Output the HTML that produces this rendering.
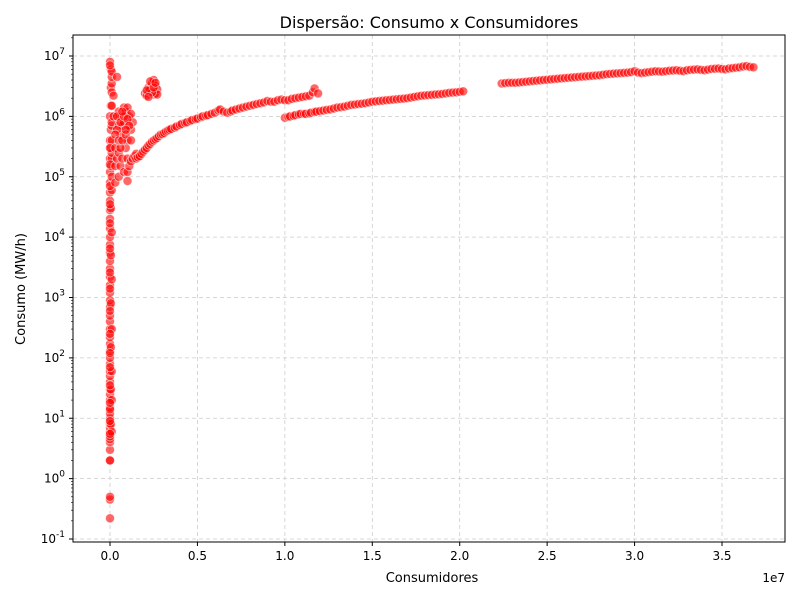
<!DOCTYPE html>
<html><head><meta charset="utf-8">
<style>
body{margin:0;background:#fff;}
svg text{font-family:"DejaVu Sans","Liberation Sans",sans-serif;}
</style></head>
<body>
<svg id="chart" width="800" height="600" xmlns="http://www.w3.org/2000/svg">
<text x="429" y="28" font-size="16" text-anchor="middle">Dispersão: Consumo x Consumidores</text>
<text x="432" y="582" font-size="13" text-anchor="middle">Consumidores</text>
<text x="25" y="289" font-size="13" text-anchor="middle" transform="rotate(-90 25 289)">Consumo (MW/h)</text>
<text x="785" y="582" font-size="12" text-anchor="end">1e7</text>
<g id="grid"></g>
<g id="pts"></g>
<rect x="73" y="35" width="712" height="507" fill="none" stroke="#000" stroke-width="1"/>
<g id="ticks"></g>
</svg>
<script>
// x in units of 1e7 consumers, y in MW/h
const xTicks=[0,0.5,1.0,1.5,2.0,2.5,3.0,3.5];
const xTickLabels=["0.0","0.5","1.0","1.5","2.0","2.5","3.0","3.5"];
const yTickExps=[-1,0,1,2,3,4,5,6,7];
// column near zero
const colX=[0,0,0,0,0,0,0,0,0,0,0,0,0,0,0,0,0,0,0,0,0,0,0,0,0,0,0,0,0,0,0,0,0,0,0,0,0,0,0,0,0,0,0,0,0,0,0,0,0,0,0.005,0.005,0.005,0.005,0.005,0.005,0.005,0.005,0.005,0.005,0.005,0.005,0.01,0.01,0.01,0.01,0.01,0.01,0.01,0.01,0.01,0.01,0.01,0.01,0.01,0.01,0.01,0.01,0.01,0.01,0,0,0,0,0,0,0,0,0,0,0,0,0,0,0,0,0,0];
const colY=[0.22,0.45,0.5,2,2,3,4,4.5,5,6,7,8,10,12,15,20,25,30,40,50,60,80,100,130,170,220,300,400,500,700,900,1200,1600,2200,3000,4000,5500,7500,1e4,1.4e4,2e4,2.8e4,4e4,5.5e4,8e4,1.2e5,2e5,4e5,1e6,8e6,3e5,6e5,1.5e6,3e6,6e6,8,30,150,800,5000,3e4,1.5e5,1e5,2e5,4e5,7e5,1.5e6,2.5e6,3.5e6,4.5e6,5.5e6,6,20,60,300,2000,1.2e4,6e4,2.5e5,8e5,5.5,9,14,18,35,70,120,250,600,1400,2600,6500,1.7e4,3.5e4,7e4,1.6e5,3e5,7e6];
// cluster small distributors
const c2X=[0.03,0.03,0.03,0.04,0.04,0.05,0.05,0.05,0.05,0.06,0.06,0.06,0.07,0.07,0.08,0.08,0.09,0.09,0.1,0.1,0.1,0.1,0.1,0.11,0.11,0.12,0.12,0.13,0.13,0.14,0.15,0.04,0.06,0.08,0.1,0.12,0.02,0.02,0.03,0.04,0.05,0.06,0.07,0.08,0.09,0.1,0.11,0.12,0.07,0.09];
const c2Y=[8e4,1.5e5,3e5,2e5,4.5e6,1e5,2.5e5,7e5,1.2e6,1.5e5,5e5,1e6,2e5,7e5,1.2e5,1.4e6,3e5,1.2e6,8.5e4,1.2e5,2e5,7e5,1.4e6,1.5e5,1e6,1.8e5,6e5,2e5,8e5,2.2e5,2.4e5,6e5,3e5,8e5,4e5,1.1e6,2.2e6,1e6,5e5,1e6,4e5,8e5,4e5,1e6,5e5,9e5,7e5,4e5,1.2e6,6e5];
// cluster around 0.2-0.27e7
const c3X=[0.2,0.21,0.22,0.22,0.23,0.24,0.25,0.25,0.26,0.26,0.27,0.27,0.24,0.23,0.21,0.25,0.26,0.22];
const c3Y=[2.4e6,2.2e6,2.6e6,3e6,2.8e6,3.5e6,4e6,2.3e6,3.2e6,2.4e6,2.8e6,2.3e6,2.5e6,3.8e6,2.7e6,3e6,3.6e6,2.1e6];
// curve 1
const l1X=[0.15,0.16,0.17,0.18,0.19,0.2,0.21,0.22,0.23,0.24,0.25,0.26,0.27,0.28,0.29,0.3,0.31,0.32,0.33,0.34,0.35,0.37,0.38,0.4,0.41,0.43,0.44,0.46,0.47,0.49,0.5,0.52,0.53,0.55,0.56,0.58,0.6,0.62,0.63,0.65,0.67,0.69,0.7,0.72,0.74,0.76,0.78,0.8,0.82,0.84,0.86,0.88,0.9,0.92,0.94,0.96,0.98,1.0,1.02,1.04,1.06,1.08,1.1,1.12,1.14,1.16,1.17,1.19];
const l1Y=[2e5,2.1e5,2.2e5,2.4e5,2.6e5,2.8e5,3e5,3.3e5,3.5e5,3.8e5,4e5,4.2e5,4.4e5,4.7e5,5e5,5.1e5,5.3e5,5.6e5,5.8e5,6e5,6.2e5,6.5e5,6.8e5,7.2e5,7.5e5,7.8e5,8e5,8.4e5,8.7e5,9e5,9.2e5,9.7e5,1e6,1.03e6,1.05e6,1.1e6,1.15e6,1.25e6,1.3e6,1.2e6,1.15e6,1.2e6,1.25e6,1.3e6,1.35e6,1.4e6,1.45e6,1.5e6,1.55e6,1.6e6,1.65e6,1.7e6,1.8e6,1.75e6,1.75e6,1.85e6,1.9e6,1.85e6,1.85e6,1.95e6,2e6,2.05e6,2.1e6,2.15e6,2.2e6,2.5e6,2.9e6,2.4e6];
// curve 2
const l2X=[1.0,1.02,1.03,1.05,1.06,1.08,1.09,1.11,1.12,1.14,1.15,1.17,1.18,1.2,1.22,1.24,1.26,1.28,1.3,1.32,1.34,1.36,1.38,1.4,1.42,1.44,1.46,1.48,1.5,1.52,1.54,1.56,1.58,1.6,1.62,1.64,1.66,1.68,1.7,1.72,1.74,1.76,1.78,1.8,1.82,1.84,1.86,1.88,1.9,1.92,1.94,1.96,1.98,2.0,2.02];
const l2Y=[9.5e5,9.8e5,1e6,1.02e6,1.05e6,1.08e6,1.1e6,1.1e6,1.1e6,1.12e6,1.15e6,1.18e6,1.2e6,1.22e6,1.25e6,1.28e6,1.3e6,1.35e6,1.4e6,1.42e6,1.45e6,1.5e6,1.55e6,1.57e6,1.6e6,1.62e6,1.65e6,1.7e6,1.75e6,1.77e6,1.8e6,1.82e6,1.85e6,1.87e6,1.9e6,1.92e6,1.95e6,1.97e6,2e6,2.05e6,2.1e6,2.15e6,2.2e6,2.22e6,2.25e6,2.27e6,2.3e6,2.32e6,2.35e6,2.4e6,2.45e6,2.48e6,2.5e6,2.55e6,2.6e6];
// curve 3
const l3X=[2.24,2.26,2.28,2.3,2.32,2.34,2.36,2.38,2.4,2.42,2.44,2.46,2.48,2.5,2.52,2.54,2.56,2.58,2.6,2.62,2.64,2.66,2.68,2.7,2.72,2.74,2.76,2.78,2.8,2.82,2.84,2.86,2.88,2.9,2.92,2.94,2.96,2.98,3.0,3.02,3.04,3.06,3.08,3.1,3.12,3.14,3.16,3.18,3.2,3.22,3.24,3.26,3.28,3.3,3.32,3.34,3.36,3.38,3.4,3.42,3.44,3.46,3.48,3.5,3.52,3.54,3.56,3.58,3.6,3.62,3.64,3.66,3.68];
const l3Y=[3.5e6,3.55e6,3.6e6,3.6e6,3.6e6,3.65e6,3.7e6,3.75e6,3.8e6,3.85e6,3.9e6,3.95e6,4e6,4.05e6,4.1e6,4.15e6,4.2e6,4.25e6,4.3e6,4.35e6,4.4e6,4.45e6,4.5e6,4.55e6,4.6e6,4.65e6,4.7e6,4.75e6,4.8e6,4.9e6,5e6,5.05e6,5.1e6,5.15e6,5.2e6,5.25e6,5.3e6,5.4e6,5.6e6,5.3e6,5.2e6,5.3e6,5.4e6,5.5e6,5.6e6,5.55e6,5.5e6,5.6e6,5.7e6,5.75e6,5.8e6,5.7e6,5.6e6,5.8e6,5.9e6,5.95e6,6e6,5.9e6,5.8e6,5.95e6,6.1e6,6.15e6,6.2e6,6.1e6,6e6,6.2e6,6.3e6,6.4e6,6.5e6,6.7e6,6.8e6,6.6e6,6.5e6];

const L=73,R=785,T=35,B=542;
function xs(v){return 110+v*(612/3.5);}
function ys(v){return 56+(7-Math.log10(v))*60.375;}
const NS="http://www.w3.org/2000/svg";
function mk(tag,attrs,parent){const e=document.createElementNS(NS,tag);for(const k in attrs)e.setAttribute(k,attrs[k]);parent.appendChild(e);return e;}
const grid=document.getElementById('grid'),ticks=document.getElementById('ticks'),pts=document.getElementById('pts');
xTicks.forEach((t,i)=>{
  const x=xs(t);
  const g=mk('line',{x1:x,x2:x,y1:T,y2:B,stroke:'#ccc','stroke-dasharray':'4,3','stroke-width':0.8},grid);
  
  
  const tk=mk('line',{x1:x,x2:x,y1:B,y2:B+4,stroke:'#000'},ticks);
  
  
  const lb=mk('text',{x:x,y:B+18,'font-size':12,'text-anchor':'middle'},ticks);
  lb.textContent=xTickLabels[i];
  
  
});
yTickExps.forEach(e=>{
  const y=ys(Math.pow(10,e));
  const g=mk('line',{x1:L,x2:R,y1:y,y2:y,stroke:'#ccc','stroke-dasharray':'4,3','stroke-width':0.8},grid);
  
  
  const tk=mk('line',{x1:L-4,x2:L,y1:y,y2:y,stroke:'#000'},ticks);
  
  
  for(let m=2;m<10;m++){
    const ym=ys(m*Math.pow(10,e));
    if(ym<T||ym>B)continue;
    const mt=mk('line',{x1:L-2,x2:L,y1:ym,y2:ym,stroke:'#000','stroke-width':0.6},ticks);
    
    
  }
  const lb=mk('text',{x:L-8,y:y+4,'font-size':12,'text-anchor':'end'},ticks);
  
  
  const t1=mk('tspan',{},lb);t1.textContent='10';
  const t2=mk('tspan',{dy:-6,'font-size':9},lb);t2.textContent=String(e);
});
const groups=[[colX,colY],[c2X,c2Y],[c3X,c3Y],[l1X,l1Y],[l2X,l2Y],[l3X,l3Y]];
groups.forEach(([X,Y])=>{
  X.forEach((v,i)=>{
    const c=mk('circle',{cx:xs(v),cy:ys(Y[i]),r:4.5,fill:'rgba(255,0,0,0.6)',stroke:'rgba(255,255,255,0.6)','stroke-width':0.8},pts);
    
    
  });
});
</script>
</body></html>
